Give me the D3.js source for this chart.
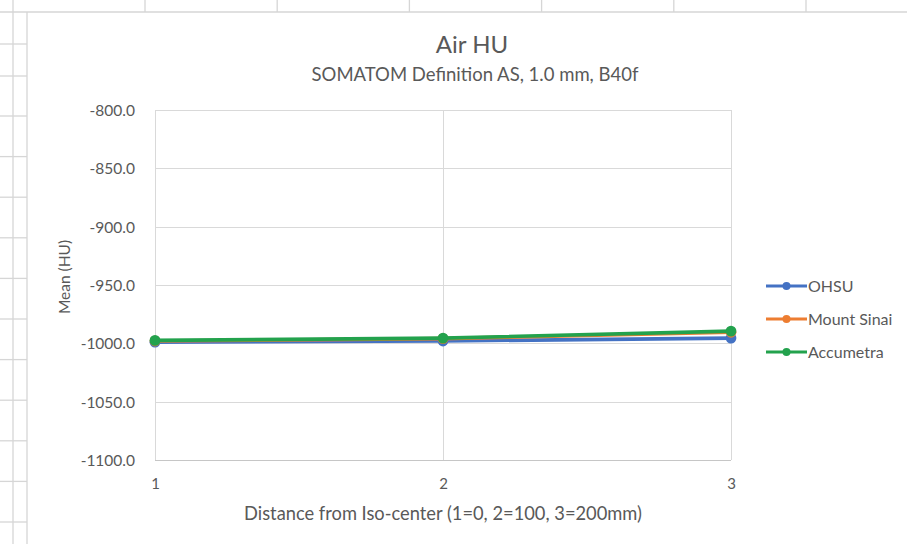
<!DOCTYPE html>
<html>
<head>
<meta charset="utf-8">
<script src="https://cdn.jsdelivr.net/npm/d3@7"></script>
<style>
  html, body { margin: 0; padding: 0; background: #fff; }
  svg { display: block; }
  text { font-family: "Lato", "Open Sans", sans-serif; fill: #595959; }
</style>
</head>
<body>
<svg id="chart" width="907" height="544"></svg>
<script>
// Series data
const positions = [1, 2, 3];
const seriesNames = ["OHSU", "Mount Sinai", "Accumetra"];
const ohsu = [-999.0, -998.0, -995.5];
const mountSinai = [-998.0, -996.0, -990.5];
const accumetra = [-997.5, -995.5, -989.5];
const yTicks = [-800, -850, -900, -950, -1000, -1050, -1100];
const xTicks = [1, 2, 3];

const colors = ["#4472C4", "#ED7D31", "#23A24D"];
const seriesValues = [ohsu, mountSinai, accumetra];

const svg = d3.select("#chart");
const W = 907, H = 544;

// Worksheet cell grid behind the chart object
const sheet = svg.append("g").attr("stroke", "#d6d6d6").attr("stroke-width", 1.3);
const chartLeft = 27, chartTop = 12;
const colLines = d3.range(0, 6).map(i => 145 + i * 132.2);
colLines.forEach(x => sheet.append("line").attr("x1", x).attr("x2", x).attr("y1", 0).attr("y2", chartTop));
sheet.append("line").attr("x1", 13).attr("x2", 13).attr("y1", 0).attr("y2", H);
sheet.append("line").attr("x1", 0).attr("x2", W).attr("y1", chartTop).attr("y2", chartTop);
const rowLines = [44, 76].concat(d3.range(0, 11).map(i => 116 + i * 40.6));
rowLines.forEach(y => sheet.append("line").attr("x1", 0).attr("x2", chartLeft).attr("y1", y).attr("y2", y));
sheet.append("line").attr("x1", chartLeft).attr("x2", chartLeft).attr("y1", chartTop).attr("y2", H);

// Plot area
const plot = { left: 155, right: 731, top: 110, bottom: 460 };
const x = d3.scaleLinear().domain([1, 3]).range([plot.left, plot.right]);
const y = d3.scaleLinear().domain([-1100, -800]).range([plot.bottom, plot.top]);

// Gridlines
const grid = svg.append("g").attr("stroke", "#d9d9d9").attr("stroke-width", 1);
yTicks.forEach(t => grid.append("line")
  .attr("x1", plot.left).attr("x2", plot.right)
  .attr("y1", Math.round(y(t)) + 0.5).attr("y2", Math.round(y(t)) + 0.5));
xTicks.forEach(t => grid.append("line")
  .attr("x1", Math.round(x(t)) + 0.5).attr("x2", Math.round(x(t)) + 0.5)
  .attr("y1", plot.top).attr("y2", plot.bottom));
// bottom axis line
svg.append("line").attr("stroke", "#c6c6c6").attr("stroke-width", 1.2)
  .attr("x1", plot.left).attr("x2", plot.right)
  .attr("y1", Math.round(y(-1100)) + 0.5).attr("y2", Math.round(y(-1100)) + 0.5);

// Axes (labels only; lines drawn as gridlines)
const fmt = d => d3.format(".1f")(d).replace("\u2212", "-");
const yAxis = svg.append("g")
  .attr("transform", `translate(${plot.left - 17},0)`)
  .call(d3.axisLeft(y).tickValues(yTicks).tickSize(0).tickFormat(fmt));
yAxis.select(".domain").remove();
yAxis.selectAll("text").attr("font-size", 15.5).attr("font-family", "Lato").attr("fill", "#595959").attr("dy", "0.35em");

const xAxis = svg.append("g")
  .attr("transform", `translate(0,${plot.bottom + 15})`)
  .call(d3.axisBottom(x).tickValues(xTicks).tickSize(0).tickFormat(d3.format("d")));
xAxis.select(".domain").remove();
xAxis.selectAll("text").attr("font-size", 15).attr("font-family", "Lato").attr("fill", "#595959");

// Titles
svg.append("text").attr("x", 472).attr("y", 53).attr("text-anchor", "middle")
  .attr("font-size", 24).text("Air HU");
svg.append("text").attr("x", 475).attr("y", 81).attr("text-anchor", "middle")
  .attr("font-size", 18.5).text("SOMATOM Definition AS, 1.0 mm, B40f");
svg.append("text").attr("x", 443).attr("y", 520).attr("text-anchor", "middle")
  .attr("font-size", 18.3).text("Distance from Iso-center (1=0, 2=100, 3=200mm)");
svg.append("text").attr("transform", "translate(70,277) rotate(-90)").attr("text-anchor", "middle")
  .attr("font-size", 15.5).text("Mean (HU)");

// Series lines and markers
const line = d3.line().x((d, i) => x(positions[i])).y(d => y(d));
seriesValues.forEach((vals, s) => {
  const g = svg.append("g");
  g.append("path").datum(vals).attr("d", line)
    .attr("fill", "none").attr("stroke", colors[s]).attr("stroke-width", 3.6)
    .attr("stroke-linejoin", "round").attr("stroke-linecap", "round");
  g.selectAll("circle").data(vals).join("circle")
    .attr("cx", (d, i) => x(positions[i])).attr("cy", d => y(d))
    .attr("r", 5.4).attr("fill", colors[s]);
});

// Legend
const legend = svg.append("g");
const legendY = [286, 319, 352];
seriesNames.forEach((name, i) => {
  const g = legend.append("g").attr("transform", `translate(766,${legendY[i]})`);
  g.append("line").attr("x1", 0).attr("x2", 41).attr("y1", 0).attr("y2", 0)
    .attr("stroke", colors[i]).attr("stroke-width", 3);
  g.append("circle").attr("cx", 20.5).attr("cy", 0).attr("r", 4).attr("fill", colors[i]);
  g.append("text").attr("x", 42).attr("y", 0).attr("dy", "0.35em")
    .attr("font-size", 16).text(name);
});
</script>
</body>
</html>
